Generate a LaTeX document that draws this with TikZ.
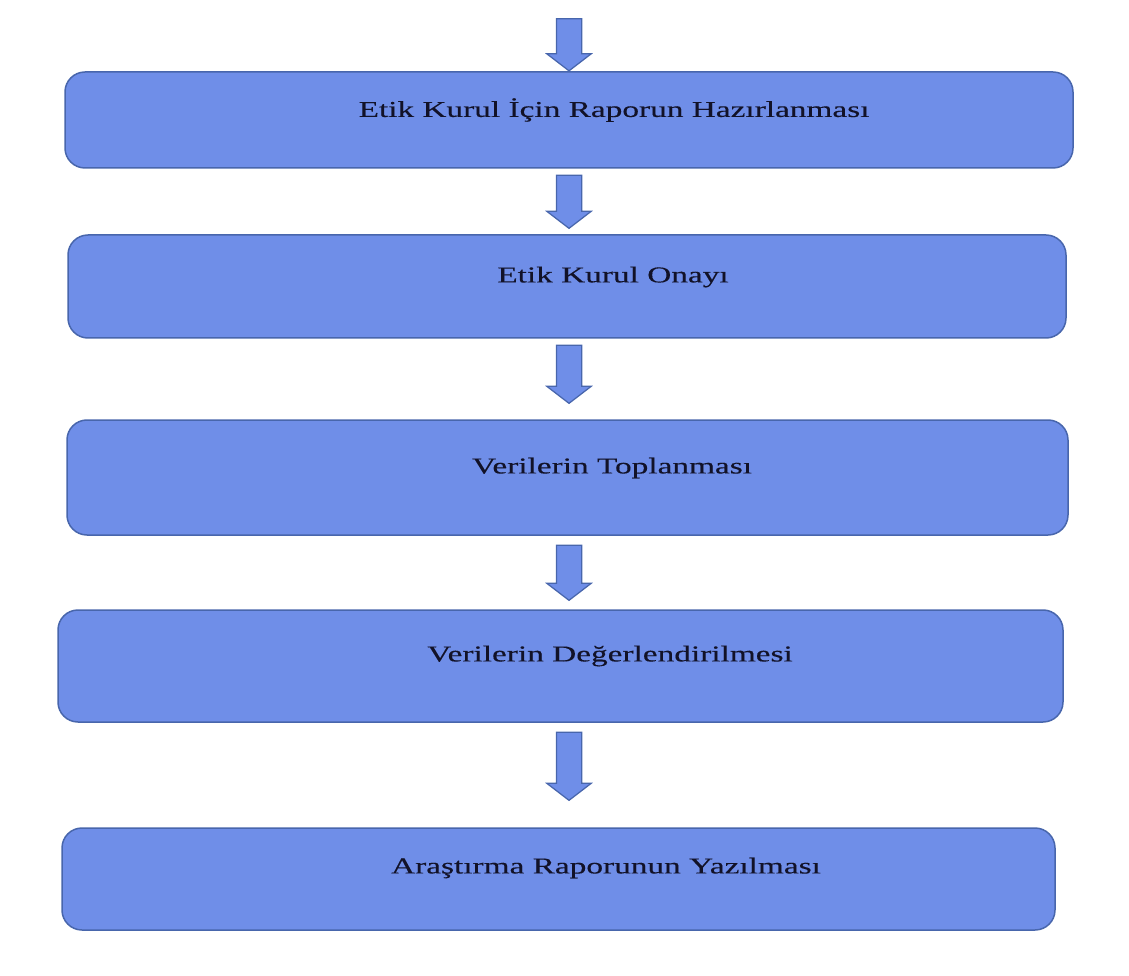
\documentclass[tikz,border=0pt]{standalone}
\usepackage{fontspec}
\setmainfont{Liberation Serif}[FakeStretch=1.47, FakeBold=0.3]
\usetikzlibrary{shapes.arrows,calc}

\definecolor{kutumavi}{RGB}{111,142,232}
\definecolor{kenarmavi}{RGB}{72,102,172}
\definecolor{yazirengi}{RGB}{18,18,40}

\begin{document}
\begin{tikzpicture}[
		  x=0.2mm, y=-0.2mm,
		  every node/.style={font=\fontsize{12.9}{15}\selectfont}
		]

		\tikzset{
		    kutu/.style={draw=kenarmavi, fill=kutumavi, line width=0.3mm, rounded corners=4mm, inner sep=0pt},
		    ok/.style={single arrow, draw=kenarmavi, fill=kutumavi, line width=0.25mm, rotate=-90,
		      inner xsep=0pt, inner ysep=12*0.2mm, single arrow head extend=9.5*0.2mm,
		      single arrow tip angle=105},
		    yazi/.style={text=yazirengi, inner sep=0pt}
		}

		\useasboundingbox (0,0) rectangle (1129,976);

		% Kutular
		\node[kutu, minimum width=1008*0.2mm, minimum height=96*0.2mm] (b1) at (569,120) {};
		\node[kutu, minimum width=998*0.2mm, minimum height=103*0.2mm] (b2) at (567,286.5) {};
		\node[kutu, minimum width=1001*0.2mm, minimum height=115*0.2mm] (b3) at (567.5,477.5) {};
		\node[kutu, minimum width=1005*0.2mm, minimum height=112*0.2mm] (b4) at (560.5,666) {};
		\node[kutu, minimum width=993*0.2mm, minimum height=102*0.2mm] (b5) at (558.5,879) {};

		% Yazilar
		\node[yazi] (t1) at (614,110) {Etik Kurul İçin Raporun Hazırlanması};
		\node[yazi] (t2) at (613,277) {Etik Kurul Onayı};
		\node[yazi] (t3) at (612,468) {Verilerin Toplanması};
		\node[yazi] (t4) at (610,656) {Verilerin Değerlendirilmesi};
		\node[yazi] (t5) at (606,868) {Araştırma Raporunun Yazılması};

		% Oklar
		\node[ok, minimum height=52*0.2mm] (o0) at (569,40) {};
		\node[ok, minimum height=53*0.2mm] (o1) at (569,197) {};
		\node[ok, minimum height=58*0.2mm] (o2) at (569,369.5) {};
		\node[ok, minimum height=55*0.2mm] (o3) at (569,568) {};
		\node[ok, minimum height=68*0.2mm] (o4) at (569,761.5) {};

		\end{tikzpicture}
\end{document}
